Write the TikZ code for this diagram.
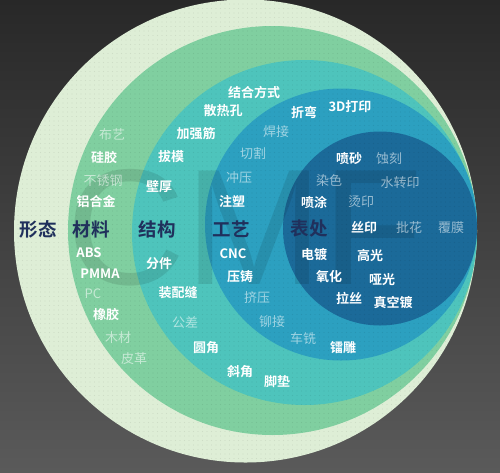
\documentclass[tikz,border=0pt]{standalone}
\usepackage{fontspec}
\usetikzlibrary{patterns.meta}
\newfontfamily\cjk[BoldFont={Noto Sans CJK SC Bold}]{Noto Sans CJK SC}
\newfontfamily\wmfont{Liberation Sans}
\definecolor{bgtop}{RGB}{40,40,40}
\definecolor{bgbot}{RGB}{90,90,90}
\definecolor{ringa}{RGB}{222,238,214}
\definecolor{ringb}{RGB}{128,207,160}
\definecolor{ringc}{RGB}{78,196,188}
\definecolor{ringd}{RGB}{44,160,192}
\definecolor{ringe}{RGB}{27,106,153}
\definecolor{catcol}{RGB}{32,48,92}

\begin{document}
\begin{tikzpicture}[x=1pt,y=-1pt,
  cat/.style={text=catcol,font=\cjk\bfseries\fontsize{18.5}{18.5}\selectfont,inner sep=0pt},
  lab/.style={text=white,font=\cjk\bfseries\fontsize{13}{13}\selectfont,inner sep=0pt},
  dim/.style={text=white,text opacity=.55,font=\cjk\fontsize{13}{13}\selectfont,inner sep=0pt}]
\useasboundingbox (0,0) rectangle (500,472);
\shade[top color=bgtop,bottom color=bgbot] (0,0) rectangle (500,472);
\fill[ringa] (245.5,231) circle (231.5);
\fill[ringb] (272.5,230.5) circle (204.5);
\fill[ringc] (304.5,232.5) circle (172.5);
\fill[ringd] (341,224.5) circle (136);
\fill[ringe] (380,228.5) circle (97);
\fill[pattern={Dots[distance=4.5pt,radius=.6pt]},pattern color=black,fill opacity=.07] (245.5,231) circle (231.5);
\node[text=black,text opacity=.1,font=\wmfont\fontsize{165}{165}\selectfont,inner sep=0pt] (wm) at (245,228) {CMF};

\node[cat] (xingtai) at (38,229) {形态};
\node[cat] (cailiao) at (91,229) {材料};
\node[cat] (jiegou) at (157,229) {结构};
\node[cat] (gongyi) at (231,229) {工艺};
\node[cat] (biaochu) at (309,229) {表处};

\node[dim] (m1) at (112,135) {布艺};
\node[lab] (m2) at (104,158) {硅胶};
\node[dim] (m3) at (103,181) {不锈钢};
\node[lab] (m4) at (96,201) {铝合金};
\node[lab] (m5) at (89,253) {ABS};
\node[lab] (m6) at (100,274) {PMMA};
\node[dim] (m7) at (93,294) {PC};
\node[lab] (m8) at (106,315) {橡胶};
\node[dim] (m9) at (118,338) {木材};
\node[dim] (m10) at (134,359) {皮革};

\node[lab] (s1) at (254,92) {结合方式};
\node[lab] (s2) at (223,111) {散热孔};
\node[lab] (s3) at (196,134) {加强筋};
\node[lab] (s4) at (171,157) {拔模};
\node[lab] (s5) at (159,187) {壁厚};
\node[lab] (s6) at (159,264) {分件};
\node[lab] (s7) at (178,293) {装配缝};
\node[dim] (s8) at (185,322) {公差};
\node[lab] (s9) at (206,348) {圆角};
\node[lab] (s10) at (240,372) {斜角};
\node[lab] (s11) at (277,382) {脚垫};

\node[lab] (p1) at (304,112) {折弯};
\node[lab] (p2) at (350,107) {3D打印};
\node[dim] (p3) at (276,132) {焊接};
\node[dim] (p4) at (253,154) {切割};
\node[dim] (p5) at (239,178) {冲压};
\node[lab] (p6) at (232,201) {注塑};
\node[lab] (p7) at (233,254) {CNC};
\node[lab] (p8) at (240,277) {压铸};
\node[dim] (p9) at (257,298) {挤压};
\node[dim] (p10) at (272,322) {铆接};
\node[dim] (p11) at (303,339) {车铣};
\node[lab] (p12) at (343,348) {镭雕};

\node[lab] (f1) at (349,159) {喷砂};
\node[dim] (f2) at (389,159) {蚀刻};
\node[dim] (f3) at (329,181) {染色};
\node[dim] (f4) at (400,183) {水转印};
\node[lab] (f5) at (314,202) {喷涂};
\node[dim] (f6) at (361,202) {烫印};
\node[lab] (f7) at (364,228) {丝印};
\node[dim] (f8) at (409,228) {批花};
\node[dim] (f9) at (451,228) {覆膜};
\node[lab] (f10) at (314,255) {电镀};
\node[lab] (f11) at (370,256) {高光};
\node[lab] (f12) at (329,277) {氧化};
\node[lab] (f13) at (382,280) {哑光};
\node[lab] (f14) at (349,298) {拉丝};
\node[lab] (f15) at (393,303) {真空镀};
\end{tikzpicture}
\end{document}
